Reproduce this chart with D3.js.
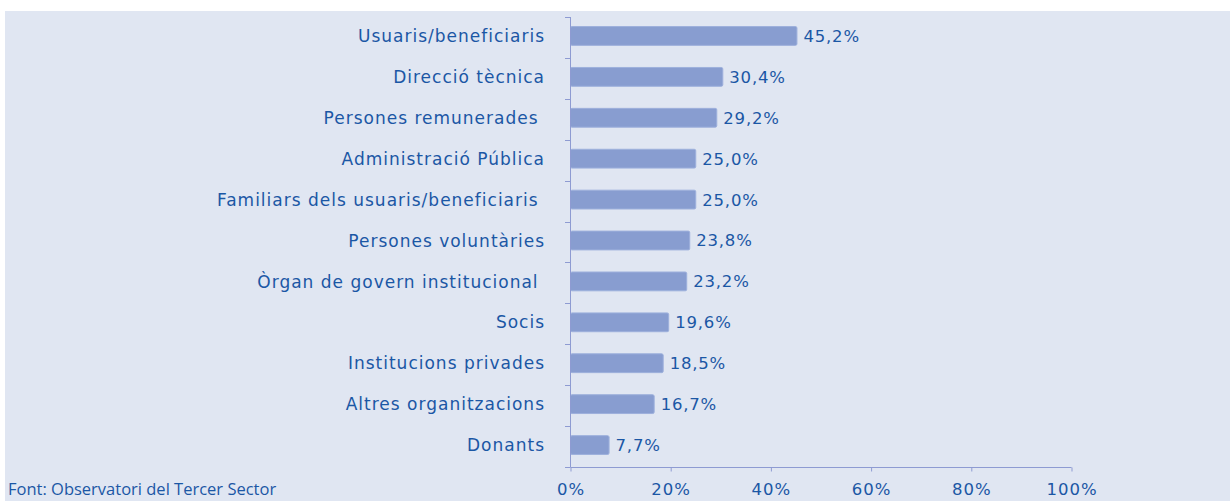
<!DOCTYPE html>
<html>
<head>
<meta charset="utf-8">
<script src="https://cdn.jsdelivr.net/npm/d3@7"></script>
<style>
  body { margin: 0; background: #fff; }
  svg text { fill: #1b57a5; }
  .cat-label { font-family: 'DejaVu Sans', sans-serif; font-size: 17px; letter-spacing: 1px; }
  .val-label { font-family: 'DejaVu Sans', sans-serif; font-size: 16.5px; letter-spacing: 0.8px; }
  .x-axis text { font-family: 'DejaVu Sans', sans-serif; font-size: 16.5px; letter-spacing: 1px; fill: #1b57a5; }
  .source { font-family: 'Open Sans', sans-serif; font-size: 16.5px; }
</style>
</head>
<body>
<svg id="chart"></svg>
<script>
const categories = [
  'Usuaris/beneficiaris',
  'Direcció tècnica',
  'Persones remunerades\u00a0',
  'Administració Pública',
  'Familiars dels usuaris/beneficiaris\u00a0',
  'Persones voluntàries',
  'Òrgan de govern institucional\u00a0',
  'Socis',
  'Institucions privades',
  'Altres organitzacions',
  'Donants'
];
const values = [45.2, 30.4, 29.2, 25.0, 25.0, 23.8, 23.2, 19.6, 18.5, 16.7, 7.7];
const xTicks = [0, 20, 40, 60, 80, 100];
const source = 'Font: Observatori del Tercer Sector';

const width = 1230, height = 501;
const margin = { top: 17, right: 159, bottom: 34, left: 570 };
const innerW = width - margin.left - margin.right;
const innerH = height - margin.top - margin.bottom;

const svg = d3.select('#chart')
  .attr('width', width)
  .attr('height', height);

// panel background
svg.append('rect')
  .attr('x', 5).attr('y', 11)
  .attr('width', width - 5).attr('height', height - 11)
  .attr('fill', '#e0e6f2');

const chart = svg.append('g')
  .attr('transform', `translate(${margin.left},${margin.top})`);

const xScale = d3.scaleLinear().domain([0, 100]).range([0, innerW]);
// bars sit a touch above the band centres in the original
const yScale = d3.scaleBand().domain(categories).range([-1.5, innerH - 1.5]).paddingInner(0.54).paddingOuter(0.27);

const fmt = v => d3.format('.1f')(v).replace('.', ',') + '%';

// bars
chart.selectAll('rect.bar')
  .data(values)
  .enter()
  .append('rect')
  .attr('class', 'bar')
  .attr('x', 0.5)
  .attr('y', (d, i) => yScale(categories[i]))
  .attr('width', d => xScale(d))
  .attr('height', yScale.bandwidth())
  .attr('rx', 1.5)
  .attr('fill', '#889dd0')
  .attr('stroke', '#9db0dc')
  .attr('stroke-width', 1);

// value labels
chart.selectAll('text.val-label')
  .data(values)
  .enter()
  .append('text')
  .attr('class', 'val-label')
  .attr('x', d => xScale(d) + 7)
  .attr('y', (d, i) => yScale(categories[i]) + yScale.bandwidth() / 2)
  .attr('dy', '0.36em')
  .text(fmt);

// category labels
chart.selectAll('text.cat-label')
  .data(categories)
  .enter()
  .append('text')
  .attr('class', 'cat-label')
  .attr('x', -25)
  .attr('y', d => yScale(d) + yScale.bandwidth() / 2)
  .attr('dy', '0.36em')
  .attr('text-anchor', 'end')
  .text(d => d);

// y axis line with ticks at band boundaries
const axisColor = '#8e9bd2';
chart.append('line')
  .attr('x1', 0.5).attr('x2', 0.5)
  .attr('y1', 0).attr('y2', innerH)
  .attr('stroke', axisColor);
const step = innerH / categories.length;
chart.selectAll('line.ytick')
  .data(d3.range(categories.length + 1))
  .enter()
  .append('line')
  .attr('class', 'ytick')
  .attr('x1', -5).attr('x2', 0.5)
  .attr('y1', d => Math.round(d * step) + 0.5)
  .attr('y2', d => Math.round(d * step) + 0.5)
  .attr('stroke', axisColor);

// x axis
const xAxis = d3.axisBottom(xScale)
  .tickValues(xTicks)
  .tickFormat(d => d + '%')
  .tickSize(4)
  .tickPadding(12);

const xAxisGroup = chart.append('g')
  .attr('class', 'x-axis')
  .attr('transform', `translate(0.5,${innerH + 0.5})`)
  .call(xAxis);
xAxisGroup.select('.domain').attr('stroke', axisColor).attr('d', `M0,0H${innerW}`);
xAxisGroup.selectAll('.tick line').attr('stroke', axisColor);

// source note
svg.append('text')
  .attr('class', 'source')
  .attr('x', 8)
  .attr('y', 495)
  .text(source);
</script>
</body>
</html>
